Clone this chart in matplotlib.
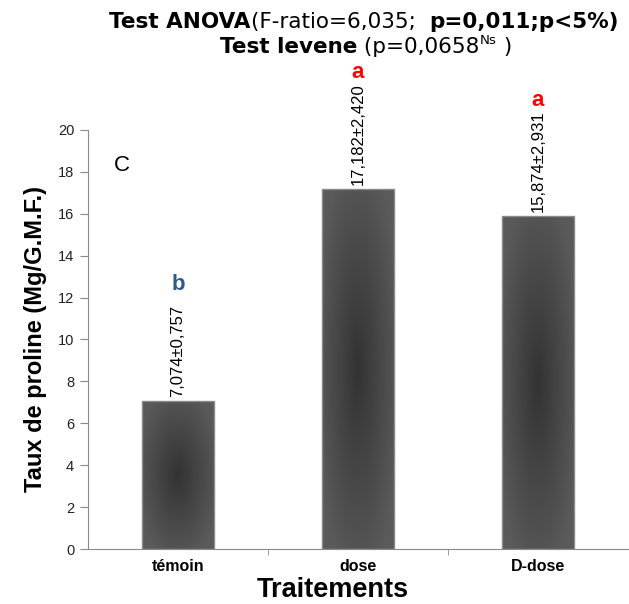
import numpy as np
import matplotlib
matplotlib.use("Agg")
import matplotlib.pyplot as plt
from matplotlib.colors import LinearSegmentedColormap
from matplotlib.transforms import offset_copy

plt.rcParams['font.family'] = 'Liberation Sans'

# data
traitements = ['témoin', 'dose', 'D-dose']
moyennes = [7.074, 17.182, 15.874]
ecarts = ['0,757', '2,420', '2,931']
lettres = ['b', 'a', 'a']
couleurs_lettres = ['#2e5b8c', '#ff0000', '#ff0000']

fig = plt.figure(figsize=(6.29, 6.04), dpi=100)
ax = fig.add_axes([0.14, 0.091, 0.858, 0.694])

x = np.arange(len(traitements))
bars = ax.bar(x, moyennes, width=0.4, color='none', edgecolor='#8a8a8a', linewidth=1, zorder=3)

# radial gradient inside each bar (dark centre, lighter edges)
cmap = LinearSegmentedColormap.from_list('grad', ['#333333', '#5a5a5a'])
gx, gy = np.meshgrid(np.linspace(-1, 1, 100), np.linspace(-1, 1, 200))
r = np.clip(np.sqrt(gx**2 + gy**2) / 1.2, 0, 1)
for b in bars:
    im = ax.imshow(r, cmap=cmap, vmin=0, vmax=1, aspect='auto', zorder=2,
                   extent=[b.get_x(), b.get_x() + b.get_width(), 0, b.get_height()])
    im.set_clip_path(b)

ax.set_xlim(-0.5, 2.5)
ax.set_ylim(0, 20)
ax.set_yticks(range(0, 21, 2))
ax.set_xticks(x)
ax.set_xticklabels(traitements, fontsize=11.5, fontweight='bold')
ax.set_xticks([0.5, 1.5], minor=True)
ax.tick_params(axis='x', which='major', length=0, pad=7)
ax.tick_params(axis='x', which='minor', length=4, color='#8a8a8a')
ax.tick_params(axis='y', labelsize=10.5, length=6, pad=4, color='#8a8a8a', labelcolor='#222222')
for s in ['top', 'right']:
    ax.spines[s].set_visible(False)
for s in ['left', 'bottom']:
    ax.spines[s].set_color('#8a8a8a')

ax.set_ylabel('Taux de proline (Mg/G.M.F.)', fontsize=17, fontweight='bold', labelpad=8)
ax.set_xlabel('Traitements', fontsize=19.5, fontweight='bold')
ax.xaxis.set_label_coords((333 - 88) / 540, -0.066)

for i, (m, e) in enumerate(zip(moyennes, ecarts)):
    lab = f"{m:.3f}".replace('.', ',') + '±' + e
    ax.text(i, m + 0.2, lab, rotation=90, ha='center', va='bottom', fontsize=12, clip_on=False)

for i, (m, l, c) in enumerate(zip(moyennes, lettres, couleurs_lettres)):
    ax.text(i, m + 5.55, l, ha='center', va='center', fontsize=16,
            fontweight='bold', color=c, clip_on=False)

ax.text(-0.31, 18.3, 'C', fontsize=16, ha='center', va='center')


def ligne(pieces, xc, y0, size):
    # text pieces placed one after another, the whole line centred on xc
    renderer = fig.canvas.get_renderer()
    tr = fig.transFigure
    dx = 0
    items = []
    for txt, w, kind in pieces:
        s = size * 0.62 if kind == 'sup' else size
        dy = size * 0.42 if kind == 'sup' else 0
        t = fig.text(xc, y0, txt, fontsize=s, fontweight=w, va='baseline', family='DejaVu Sans')
        t.set_transform(offset_copy(tr, fig=fig, x=dx, y=dy, units='points'))
        items.append((t, dx, dy))
        dx += t.get_window_extent(renderer).width * 72 / fig.dpi
    for t, d, dy in items:
        t.set_transform(offset_copy(tr, fig=fig, x=d - dx / 2, y=dy, units='points'))


ligne([('Test ANOVA', 'bold', ''), ('(F-ratio=6,035;  ', 'normal', ''),
       ('p=0,011;p<5%)', 'bold', '')], 364 / 629, 1 - 28 / 604, 15.5)
ligne([('Test levene', 'bold', ''), (' (p=0,0658', 'normal', ''),
       ('Ns', 'normal', 'sup'), (' )', 'normal', '')], 366 / 629, 1 - 53 / 604, 15.5)

fig.savefig('out.png', dpi=100)
